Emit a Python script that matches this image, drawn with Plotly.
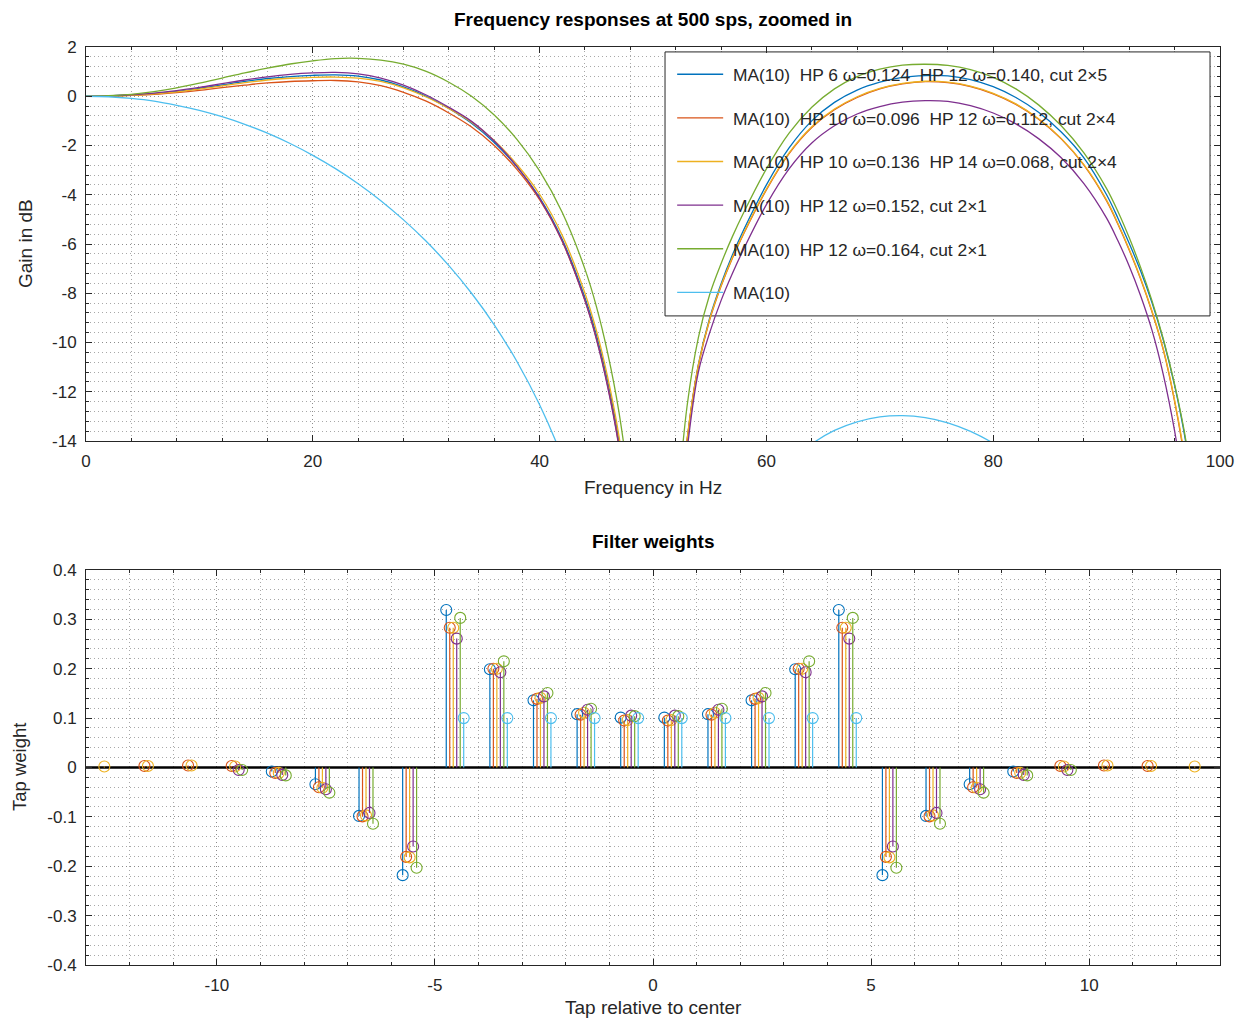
import plotly.graph_objects as go

# ---------------- data ----------------
NAMES = [
    "MA(10)  HP 6 ω=0.124  HP 12 ω=0.140, cut 2×5",
    "MA(10)  HP 10 ω=0.096  HP 12 ω=0.112, cut 2×4",
    "MA(10)  HP 10 ω=0.136  HP 14 ω=0.068, cut 2×4",
    "MA(10)  HP 12 ω=0.152, cut 2×1",
    "MA(10)  HP 12 ω=0.164, cut 2×1",
    "MA(10)",
]
COLORS = ["#0072BD", "#D95319", "#EDB120", "#7E2F8E", "#77AC30", "#4DBEEE"]

# frequency (Hz) sample points
FREQ_PASS = [0, 2, 4, 6, 8, 10, 12, 14, 16, 18, 20, 22, 24, 26, 28, 30, 32, 34,
             36, 38, 40, 42, 44, 45, 46, 47, 48, 49]
FREQ_STOP = [52, 53, 54, 55, 56, 57, 58, 60, 62, 64, 66, 68, 70, 72, 74, 76,
             78, 80, 82, 84, 86, 88, 90, 91, 92, 93, 94, 95, 96, 97, 98]
FREQ_MA_PASS = [0, 2, 4, 6, 8, 10, 12, 14, 16, 18, 20, 22, 24, 26, 28, 30, 32,
                34, 36, 38, 40, 42, 44]
FREQ_MA_STOP = [62, 64, 66, 68, 70, 72, 74, 76, 78, 80, 82]

# gains in dB
GAIN_PASS_1 = [0, 0.01, 0.05, 0.11, 0.2, 0.32, 0.46, 0.6, 0.72, 0.8, 0.85, 0.87,
               0.82, 0.66, 0.38, 0.0, -0.5, -1.1, -1.88, -2.87, -4.12, -5.82,
               -8.18, -9.68, -11.58, -14.0, -17.5, -23.5]
GAIN_PASS_2 = [0, 0.01, 0.04, 0.08, 0.15, 0.24, 0.35, 0.45, 0.54, 0.6, 0.63, 0.64,
               0.58, 0.43, 0.16, -0.2, -0.68, -1.25, -2.0, -2.97, -4.2, -5.9,
               -8.3, -9.82, -11.75, -14.2, -17.8, -23.8]
GAIN_PASS_3 = [0, 0.01, 0.04, 0.1, 0.18, 0.29, 0.42, 0.55, 0.66, 0.73, 0.77, 0.78,
               0.74, 0.6, 0.34, -0.03, -0.5, -1.05, -1.8, -2.77, -3.98, -5.65,
               -8.0, -9.5, -11.4, -13.8, -17.2, -23.0]
GAIN_PASS_4 = [0, 0.01, 0.06, 0.13, 0.23, 0.36, 0.51, 0.66, 0.79, 0.89, 0.95, 0.97,
               0.91, 0.74, 0.45, 0.05, -0.45, -1.02, -1.82, -2.85, -4.15, -5.88,
               -8.3, -9.85, -11.8, -14.25, -17.8, -23.8]
GAIN_PASS_5 = [0, 0.02, 0.08, 0.19, 0.34, 0.53, 0.74, 0.95, 1.14, 1.31, 1.44, 1.53,
               1.54, 1.47, 1.30, 1.01, 0.57, 0.0, -0.76, -1.75, -3.03, -4.72,
               -7.02, -8.52, -10.42, -12.83, -16.35, -22.4]

GAIN_STOP_1 = [-19.3, -14.0, -10.9, -9.0, -7.62, -6.45, -5.42, -3.6, -2.1, -1.0,
               -0.25, 0.25, 0.57, 0.77, 0.84, 0.83, 0.68, 0.39, -0.05, -0.65,
               -1.45, -2.5, -4.0, -4.95, -5.98, -7.1, -8.38, -9.9, -11.75, -14.1, -17.6]
GAIN_STOP_2 = [-19.3, -14.0, -10.95, -9.08, -7.72, -6.58, -5.58, -3.8, -2.33, -1.27,
               -0.55, -0.05, 0.3, 0.5, 0.59, 0.55, 0.39, 0.1, -0.33, -0.93,
               -1.73, -2.8, -4.25, -5.2, -6.25, -7.42, -8.75, -10.3, -12.4, -15.1, -18.8]
GAIN_STOP_3 = [-19.2, -13.95, -10.92, -9.05, -7.69, -6.55, -5.55, -3.77, -2.3, -1.24,
               -0.52, -0.02, 0.32, 0.52, 0.61, 0.57, 0.41, 0.12, -0.31, -0.91,
               -1.71, -2.78, -4.22, -5.17, -6.22, -7.39, -8.72, -10.27, -12.35, -15.0, -18.7]
GAIN_STOP_4 = [-19.5, -14.4, -11.2, -9.6, -8.3, -7.2, -6.2, -4.4, -2.95, -1.9,
               -1.2, -0.72, -0.42, -0.24, -0.18, -0.21, -0.38, -0.68, -1.12, -1.72,
               -2.5, -3.55, -4.95, -5.87, -6.9, -8.1, -9.5, -11.3, -13.6, -16.6, -21.0]
GAIN_STOP_5 = [-17.5, -12.6, -9.8, -8.05, -6.8, -5.7, -4.72, -2.95, -1.5, -0.45,
               0.3, 0.8, 1.1, 1.26, 1.30, 1.25, 1.08, 0.77, 0.3, -0.35,
               -1.2, -2.3, -3.75, -4.68, -5.75, -6.95, -8.3, -9.85, -11.7, -14.0, -17.5]

GAIN_MA_PASS = [0, -0.02, -0.09, -0.2, -0.37, -0.57, -0.83, -1.14, -1.5, -1.92,
                -2.4, -2.94, -3.55, -4.24, -5.02, -5.89, -6.88, -8.0, -9.28,
                -10.77, -12.53, -14.67, -17.4]
GAIN_MA_STOP = [-14.88, -14.12, -13.57, -13.22, -13.02, -12.97, -13.05, -13.26,
                -13.61, -14.09, -14.72]

# filter weights, taps relative to centre (None = tap not present)
TAPS = [-12.5, -11.5, -10.5, -9.5, -8.5, -7.5, -6.5, -5.5, -4.5, -3.5, -2.5,
        -1.5, -0.5, 0.5, 1.5, 2.5, 3.5, 4.5, 5.5, 6.5, 7.5, 8.5, 9.5, 10.5,
        11.5, 12.5]
W_1 = [None, None, None, None, -0.008, -0.034, -0.098, -0.218, 0.319, 0.199,
       0.136, 0.108, 0.101, 0.101, 0.108, 0.136, 0.199, 0.319, -0.218, -0.098,
       -0.034, -0.008, None, None, None, None]
W_2 = [None, 0.003, 0.004, 0.003, -0.011, -0.040, -0.099, -0.181, 0.283, 0.200,
       0.139, 0.107, 0.095, 0.095, 0.107, 0.139, 0.200, 0.283, -0.181, -0.099,
       -0.040, -0.011, 0.003, 0.004, 0.003, None]
W_3 = [0.002, 0.003, 0.004, 0.002, -0.011, -0.041, -0.097, -0.182, 0.283, 0.200,
       0.141, 0.111, 0.096, 0.096, 0.111, 0.141, 0.200, 0.283, -0.182, -0.097,
       -0.041, -0.011, 0.002, 0.004, 0.003, 0.002]
W_4 = [None, None, None, -0.005, -0.015, -0.044, -0.092, -0.160, 0.261, 0.193,
       0.144, 0.117, 0.105, 0.105, 0.117, 0.144, 0.193, 0.261, -0.160, -0.092,
       -0.044, -0.015, -0.005, None, None, None]
W_5 = [None, None, None, -0.005, -0.016, -0.051, -0.114, -0.203, 0.303, 0.215,
       0.151, 0.119, 0.104, 0.104, 0.119, 0.151, 0.215, 0.303, -0.203, -0.114,
       -0.051, -0.016, -0.005, None, None, None]
W_MA = [None, None, None, None, None, None, None, None, 0.1, 0.1, 0.1, 0.1, 0.1,
        0.1, 0.1, 0.1, 0.1, 0.1, None, None, None, None, None, None, None, None]

# tick labels
F_TICKS = [0, 20, 40, 60, 80, 100]
F_TICKTEXT = ["0", "20", "40", "60", "80", "100"]
G_TICKS = [2, 0, -2, -4, -6, -8, -10, -12, -14]
G_TICKTEXT = ["2", "0", "-2", "-4", "-6", "-8", "-10", "-12", "-14"]
T_TICKS = [-10, -5, 0, 5, 10]
T_TICKTEXT = ["-10", "-5", "0", "5", "10"]
W_TICKS = [0.4, 0.3, 0.2, 0.1, 0, -0.1, -0.2, -0.3, -0.4]
W_TICKTEXT = ["0.4", "0.3", "0.2", "0.1", "0", "-0.1", "-0.2", "-0.3", "-0.4"]

# ---------------- figure ----------------
FONT = "Liberation Sans, Arial, Helvetica, sans-serif"
TXT = "#262626"
fig = go.Figure()

pass_sets = [GAIN_PASS_1, GAIN_PASS_2, GAIN_PASS_3, GAIN_PASS_4, GAIN_PASS_5]
stop_sets = [GAIN_STOP_1, GAIN_STOP_2, GAIN_STOP_3, GAIN_STOP_4, GAIN_STOP_5]


def legend_text(s):
    return "\u00a0" + s.replace("  ", " \u00a0")


for i in range(5):
    fig.add_trace(go.Scatter(
        x=FREQ_PASS + [None] + FREQ_STOP,
        y=pass_sets[i] + [None] + stop_sets[i],
        mode="lines", name=legend_text(NAMES[i]), legendgroup=f"g{i}",
        line=dict(color=COLORS[i], width=1.3, shape="spline", smoothing=1.0),
        hoverinfo="skip", xaxis="x", yaxis="y"))
fig.add_trace(go.Scatter(
    x=FREQ_MA_PASS + [None] + FREQ_MA_STOP,
    y=GAIN_MA_PASS + [None] + GAIN_MA_STOP,
    mode="lines", name=legend_text(NAMES[5]), legendgroup="g5",
    line=dict(color=COLORS[5], width=1.3, shape="spline", smoothing=1.0),
    hoverinfo="skip", xaxis="x", yaxis="y"))

weights = [W_1, W_2, W_3, W_4, W_5, W_MA]
SPREAD = 0.08
for i, w in enumerate(weights):
    off = (i - 3) * SPREAD
    xs, ys, mx, my = [], [], [], []
    for t, v in zip(TAPS, w):
        if v is None:
            continue
        xs += [t + off, t + off, None]
        ys += [0, v, None]
        mx.append(t + off)
        my.append(v)
    fig.add_trace(go.Scatter(x=xs, y=ys, mode="lines",
                             line=dict(color=COLORS[i], width=1.2),
                             showlegend=False, hoverinfo="skip",
                             xaxis="x2", yaxis="y2"))
    fig.add_trace(go.Scatter(x=mx, y=my, mode="markers",
                             marker=dict(symbol="circle-open", size=11,
                                         color=COLORS[i], line=dict(width=1.1)),
                             showlegend=False, hoverinfo="skip",
                             xaxis="x2", yaxis="y2"))

GRID = "#8c8c8c"
MINOR_GRID = "#a8a8a8"
AXLINE = "#262626"


def axis(**kw):
    base = dict(showline=True, linecolor=AXLINE, linewidth=1, mirror="allticks",
                ticks="inside", ticklen=6, tickcolor=AXLINE, tickwidth=1,
                showgrid=True, gridcolor=GRID, griddash="1px,3px", gridwidth=1,
                zeroline=False, tickmode="array", ticklabelstandoff=5,
                tickfont=dict(family=FONT, size=17, color=TXT))
    base.update(kw)
    return base


def minor(dt):
    return dict(tickmode="linear", tick0=0, dtick=dt, ticks="inside",
                ticklen=3, tickcolor=AXLINE, showgrid=True,
                gridcolor=MINOR_GRID, griddash="1px,3px")


TOP_DOM = [0.5708, 1.0]
BOT_DOM = [0.0, 0.4303]


def ann(text, x, y, size, bold=False, angle=0):
    return dict(text=f"<b>{text}</b>" if bold else text, xref="paper",
                yref="paper", x=x, y=y, xanchor="center", yanchor="middle",
                showarrow=False, textangle=angle,
                font=dict(family=FONT, size=size,
                          color="black" if bold else TXT))


fig.update_layout(
    width=1238, height=1010,
    margin=dict(l=78, r=26, t=39, b=53),
    paper_bgcolor="white", plot_bgcolor="white",
    font=dict(family=FONT, color=TXT),
    xaxis=axis(domain=[0, 1], anchor="y", range=[0, 100],
               tickvals=F_TICKS, ticktext=F_TICKTEXT, minor=minor(4)),
    yaxis=axis(domain=TOP_DOM, anchor="x", range=[-14, 2],
               tickvals=G_TICKS, ticktext=G_TICKTEXT, minor=minor(0.4)),
    xaxis2=axis(domain=[0, 1], anchor="y2", range=[-13, 13],
                tickvals=T_TICKS, ticktext=T_TICKTEXT, minor=minor(1)),
    yaxis2=axis(domain=BOT_DOM, anchor="x2", range=[-0.4, 0.4],
                tickvals=W_TICKS, ticktext=W_TICKTEXT, minor=minor(0.02)),
    showlegend=True,
    legend=dict(x=0.5169, y=0.9897, xanchor="left", yanchor="top",
                bgcolor="rgba(0,0,0,0)", borderwidth=0,
                font=dict(family=FONT, size=17.4, color=TXT),
                tracegroupgap=18, itemwidth=46),
    annotations=[
        ann("Frequency responses at 500 sps, zoomed in", 0.5, 1.0305, 19, bold=True),
        ann("Filter weights", 0.5, (965 - 541) / 918, 19, bold=True),
        ann("Frequency in Hz", 0.5, (965 - 487) / 918, 19),
        ann("Tap relative to center", 0.5, (965 - 1008) / 918, 19),
        ann("Gain in dB", (25 - 86) / 1134, (965 - 244) / 918, 19, angle=-90),
        ann("Tap weight", (19 - 86) / 1134, (965 - 767) / 918, 18.5, angle=-90),
    ],
    shapes=[
        dict(type="rect", xref="x", yref="y",
             x0=51.06, x1=99.12, y0=-8.92, y1=1.80,
             fillcolor="white", line=dict(color=AXLINE, width=1), layer="between"),
        dict(type="line", xref="x2", yref="y2", x0=-13, x1=13, y0=0, y1=0,
             line=dict(color="black", width=2.5), layer="between"),
    ],
)

fig.write_html("out.html")
